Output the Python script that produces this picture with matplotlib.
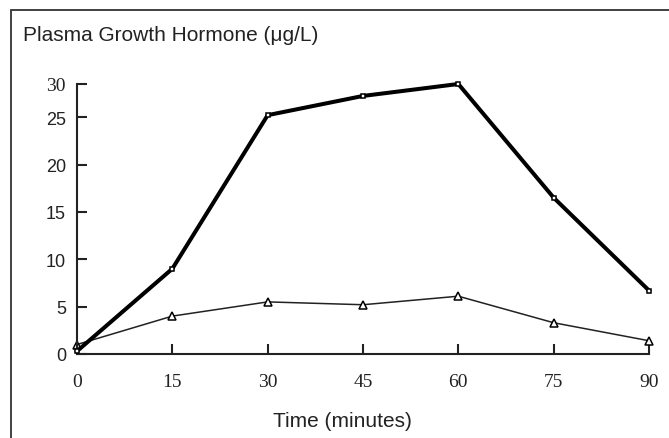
import numpy as np
import matplotlib
matplotlib.use("Agg")
import matplotlib.pyplot as plt
from matplotlib.patches import Rectangle

# --- data ---
time_min = [0, 15, 30, 45, 60, 75, 90]
gh_squares = [0.3, 9.0, 25.3, 28.2, 30.0, 16.5, 6.7]
gh_triangles = [1.0, 4.0, 5.5, 5.2, 6.1, 3.3, 1.4]
y_ticks = [0, 5, 10, 15, 20, 25, 30]
x_ticks = [0, 15, 30, 45, 60, 75, 90]

W, H = 669, 439
fig = plt.figure(figsize=(W / 100, H / 100), dpi=100)

# frame round the whole figure
fig.patches.append(Rectangle((11 / W, -0.1), 1.2, 1 - 11 / H + 0.1,
                             transform=fig.transFigure, fill=False,
                             edgecolor="#333333", lw=1.3))

ax = fig.add_axes([77 / W, 1 - 355 / H, (649 - 77) / W, (355 - 85) / H])

# y axis squeezed above 25, like in the original
def fwd(y):
    y = np.asarray(y, dtype=float)
    return np.where(y <= 25, y, 25 + (y - 25) * 0.7)

def inv(y):
    y = np.asarray(y, dtype=float)
    return np.where(y <= 25, y, 25 + (y - 25) / 0.7)

ax.set_yscale("function", functions=(fwd, inv))

ax.plot(time_min, gh_squares, color="black", lw=2.9, marker="s", ms=3.5,
        mfc="white", mec="black", mew=1.1, clip_on=False, zorder=3)
ax.plot(time_min, gh_triangles, color="#222222", lw=1.1, marker="^", ms=5.5,
        mfc="white", mec="black", mew=1.1, clip_on=False, zorder=2)

ax.set_xlim(0, 90)
ax.set_ylim(0, 30)

for s in ["top", "right"]:
    ax.spines[s].set_visible(False)
for s in ["left", "bottom"]:
    ax.spines[s].set_color("#222222")
    ax.spines[s].set_linewidth(1.5)

ax.set_xticks(x_ticks)
ax.set_xticklabels([str(v) for v in x_ticks], family="Liberation Serif",
                   fontsize=14, color="#222222")
ax.set_yticks(y_ticks)
ax.set_yticklabels([str(v) for v in y_ticks], family="Liberation Sans",
                   fontsize=13, color="#222222")
ax.get_yticklabels()[-1].set_family("Liberation Serif")
ax.get_yticklabels()[-1].set_fontsize(14)
ax.tick_params(axis="both", direction="in", length=7, width=1.5, color="#222222")
ax.tick_params(axis="x", pad=14)
ax.tick_params(axis="y", pad=8)

fig.text(23 / W, 1 - 41 / H, "Plasma Growth Hormone (\u03bcg/L)",
         family="Liberation Sans", fontsize=15, color="#222222", va="baseline")
fig.text(273 / W, 1 - 427 / H, "Time (minutes)",
         family="Liberation Sans", fontsize=15, color="#222222", va="baseline")

fig.savefig("out.png", dpi=100)
